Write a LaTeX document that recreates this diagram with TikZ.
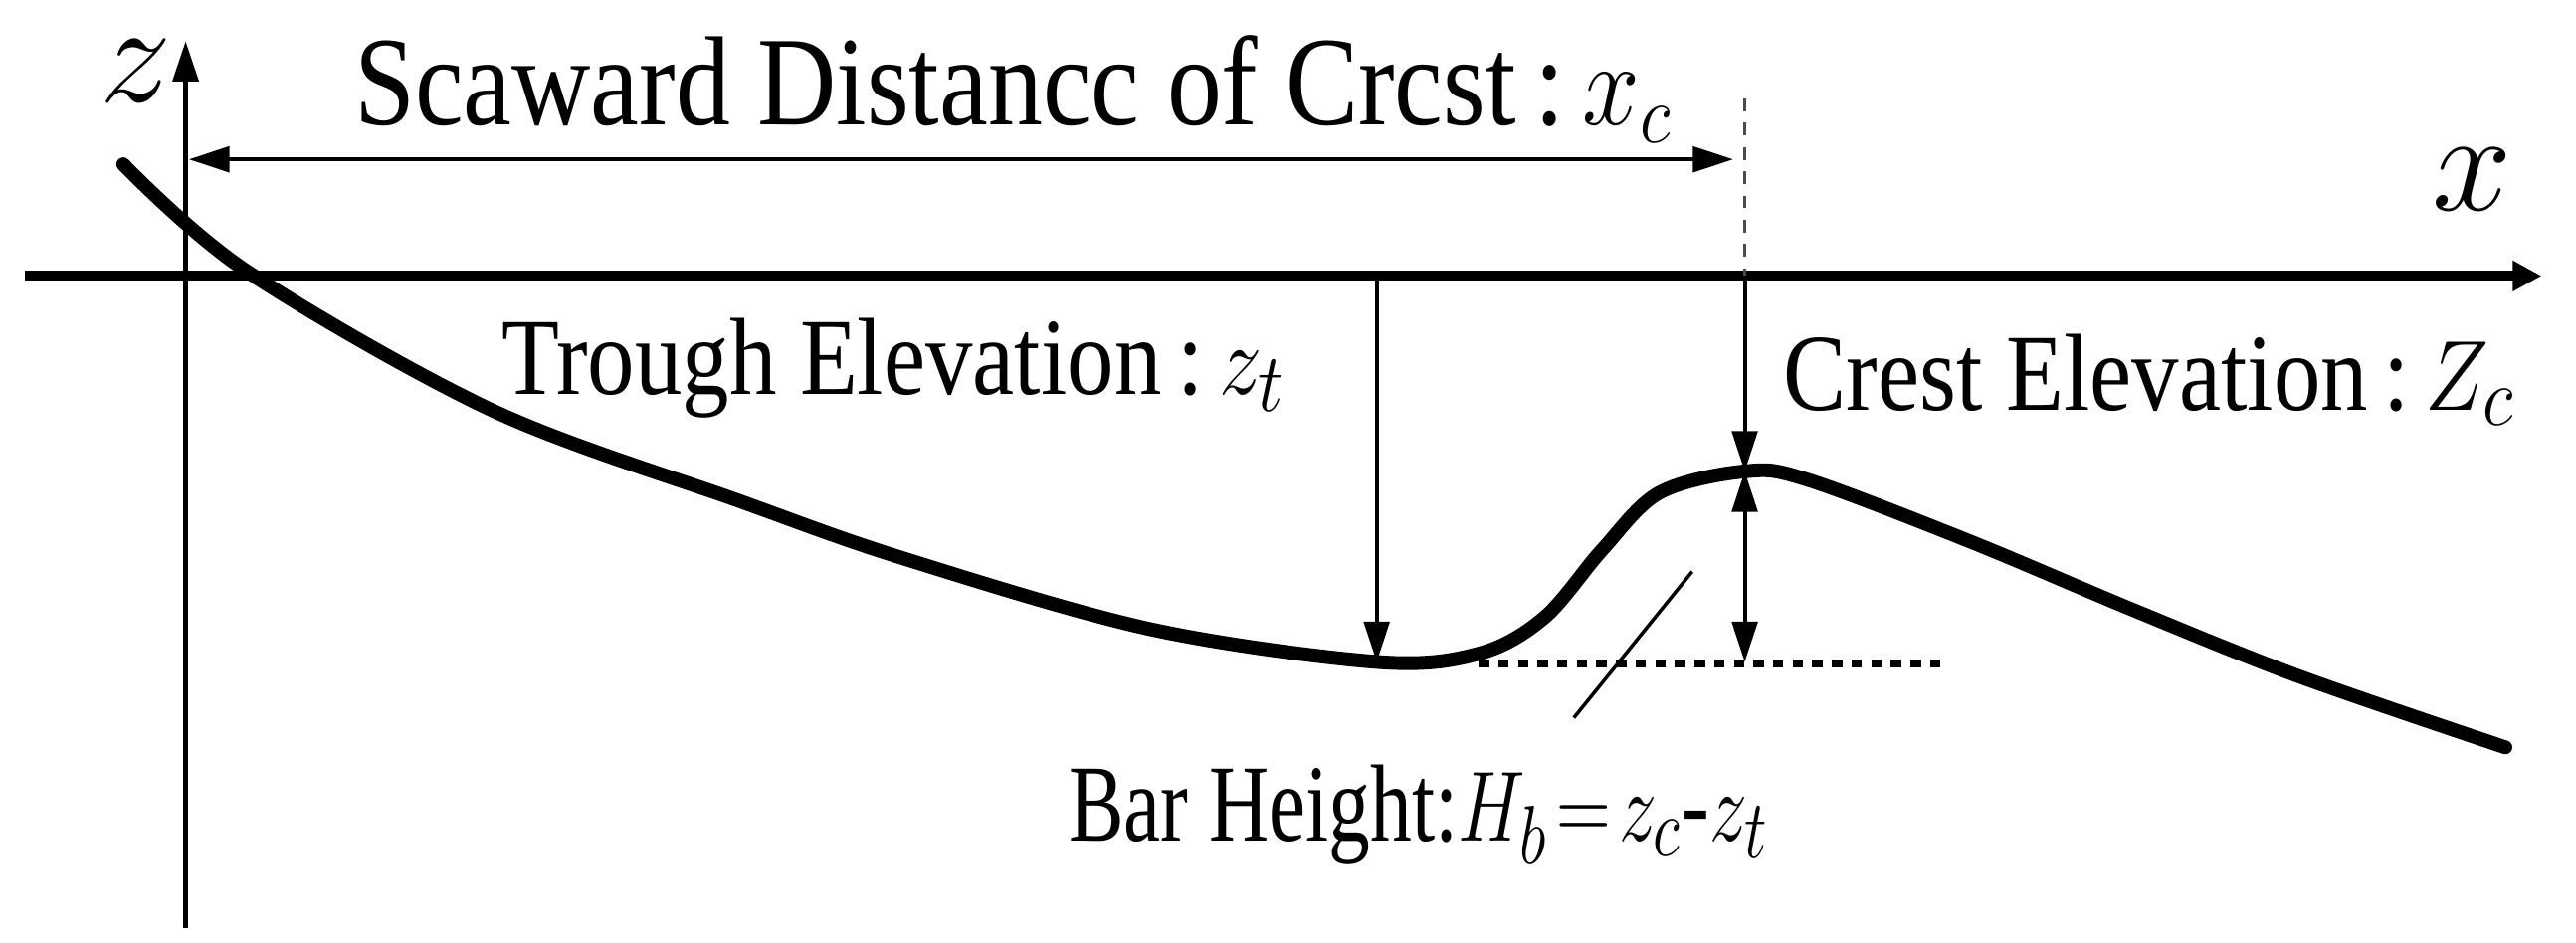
\documentclass[tikz,border=0pt]{standalone}
\usepackage{fontspec}
\setmainfont{Liberation Serif}
\usetikzlibrary{arrows.meta,positioning}

\begin{document}
\begin{tikzpicture}[>={Triangle[length=7pt,width=4.4pt]},
    axis/.style={line width=0.9pt},
    profile/.style={line width=2.4pt,line cap=round,line join=round},
    dim/.style={->,line width=0.7pt},
    guide/.style={dash pattern=on 2.2pt off 2pt,line width=0.5pt,black!70},
    level/.style={dash pattern=on 1.8pt off 1.6pt,line width=1.3pt},
    lbl/.style={font=\fontsize{19}{22}\selectfont,inner sep=0pt,xscale=0.86,transform shape},
    big/.style={font=\fontsize{23}{27}\selectfont,inner sep=0pt}]

  \useasboundingbox (0,0) rectangle (15.68,-5.74);

  \coordinate (zbot) at (1.13,-5.65);
  \coordinate (ztop) at (1.13,-0.25);
  \coordinate (xleft) at (0.15,-1.68);
  \coordinate (xright) at (15.47,-1.68);
  \coordinate (trough) at (8.38,-4.03);
  \coordinate (crest) at (10.62,-2.87);
  \coordinate (foot) at (10.62,-4.03);
  \coordinate (trAxis) at (8.38,-1.68);
  \coordinate (crAxis) at (10.62,-1.68);
  \coordinate (crTop) at (10.62,-0.60);
  \coordinate (dimL) at (1.15,-0.97);
  \coordinate (dimR) at (10.55,-0.97);
  \coordinate (levL) at (9.00,-4.04);
  \coordinate (levR) at (11.85,-4.04);
  \coordinate (leadA) at (10.30,-3.48);
  \coordinate (leadB) at (9.58,-4.37);

  \draw[axis,->] (zbot) -- (ztop);
  \draw[line width=1.7pt,-{Triangle[length=5pt,width=5pt]}] (xleft) -- (xright);
  \node[big,anchor=base west] (zlbl) at (0.60,-0.62) {$z$};
  \node[big,anchor=base west] (xlbl) at (14.80,-1.28) {$x$};

  \draw[profile] plot[smooth,tension=0.55] coordinates {
      (0.75,-1.00) (1.50,-1.65) (3.00,-2.50) (4.50,-3.05) (5.50,-3.40)
      (7.00,-3.83) (trough) (9.00,-3.98) (9.40,-3.76) (9.75,-3.35)
      (10.10,-3.00) (crest) (11.00,-2.92)
      (12.00,-3.30) (13.00,-3.72) (14.00,-4.12) (15.25,-4.55)};

  \draw[guide] (crTop) -- (crAxis);
  \draw[dim,<->] (dimL) -- (dimR);
  \draw[dim] (trAxis) -- (trough);
  \draw[dim] (crAxis) -- (crest);
  \draw[dim,<->] (crest) -- (foot);
  \draw[level] (levL) -- (levR);
  \draw[line width=0.6pt] (leadA) -- (leadB);

  \node[lbl,font=\fontsize{22}{26}\selectfont,anchor=base west] (title) at (2.15,-0.76) {Scaward Distancc of Crcst\,:\,$x_c$};
  \node[lbl,anchor=base west] (trlbl) at (3.05,-2.40) {Trough Elevation\,:\,$z_t$};
  \node[lbl,anchor=base west] (crlbl) at (10.85,-2.50) {Crest Elevation\,:\,$Z_c$};
  \node[lbl,xscale=0.88,anchor=base west] (barlbl) at (6.50,-5.12) {Bar Height:$H_b\!=\!z_c\mbox{-}z_t$};
\end{tikzpicture}
\end{document}
